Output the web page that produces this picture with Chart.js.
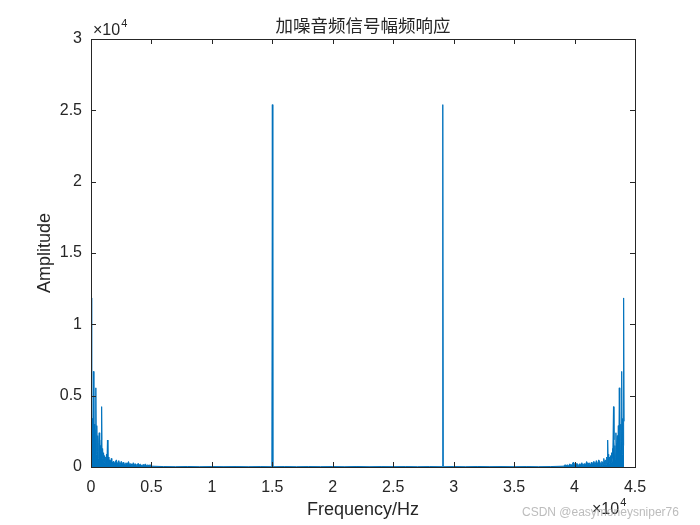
<!DOCTYPE html>
<html>
<head>
<meta charset="utf-8">
<script src="https://cdn.jsdelivr.net/npm/chart.js@4/dist/chart.umd.min.js"></script>
<style>
  html, body { margin: 0; padding: 0; background: #fff; }
  #wrap { width: 700px; height: 525px; }
</style>
</head>
<body>
<div id="wrap"><canvas id="spectrum"></canvas></div>
<script>
// 低频段 (0-2000 Hz)
const lowFreq = [0,40,80,120,160,200,240,280,320,360,400,440,480,520,560,600,640,680,720,760,800,840,880,920,960,1000,1040,1080,1120,1160,1200,1240,1280,1320,1360,1400,1440,1480,1520,1560,1600,1640,1680,1720,1760,1800,1840,1880,1920,1960,2000];
const lowAmp = [3200,11850,1500,3400,900,6700,1800,3000,1200,2600,5550,900,2900,1100,2200,600,1700,2400,500,1500,700,1900,4230,600,1300,400,1000,300,800,350,700,250,900,400,1890,300,700,200,500,150,450,200,600,150,350,100,400,150,300,100,350];

const bandFreq = [2100,2200,2300,2400,2500,2600,2700,2800,2900,3000,3100,3200,3300,3400,3500,3600,3700,3800,3900,4000,4100,4200,4300,4400,4500,4600,4700,4800,4900,5000];
const bandAmp = [500,200,450,150,400,250,350,120,300,200,380,150,250,100,300,180,220,90,260,150,200,80,180,120,220,70,150,100,160,60];

// 中间段, 含两个尖峰
const midFreq = [6000,7000,8000,9000,10000,11000,12000,13000,14000,14960,15000,15040,16000,17000,18000,19000,20000,21000,22000,23000,24000,25000,26000,27000,28000,29060,29100,29140,30000,31000,32000,33000,34000,35000,36000,37000,38000];
const midAmp = [30,20,35,20,30,25,30,20,30,20,25400,20,30,20,30,25,30,20,35,20,30,25,30,20,30,20,25400,20,30,20,35,25,30,20,30,20,30];

const highBandFreq = [39100,39200,39300,39400,39500,39600,39700,39800,39900,40000,40100,40200,40300,40400,40500,40600,40700,40800,40900,41000,41100,41200,41300,41400,41500,41600,41700,41800,41900,42000];
const highBandAmp = [60,160,100,150,70,220,120,180,350,200,150,260,90,220,180,300,100,250,150,380,200,300,120,350,250,400,150,450,200,500];

const highFreq = [42100,42140,42180,42220,42260,42300,42340,42380,42420,42460,42500,42540,42580,42620,42660,42700,42740,42780,42820,42860,42900,42940,42980,43020,43060,43100,43140,43180,43220,43260,43300,43340,43380,43420,43460,43500,43540,43580,43620,43660,43700,43740,43780,43820,43860,43900,43940,43980,44020,44060,44100];
const highAmp = [350,100,300,150,400,100,350,150,600,200,450,150,500,200,700,300,1890,400,900,250,700,350,800,300,1000,400,1300,600,4230,1900,700,1500,500,2400,1700,600,2200,1100,2900,900,5550,2600,1200,3000,1800,6700,900,3400,1500,11850,3200];

const xTicks = [0,5000,10000,15000,20000,25000,30000,35000,40000,45000];
const yTicks = [0,5000,10000,15000,20000,25000,30000];

const freqs = [...lowFreq, ...bandFreq, ...midFreq, ...highBandFreq, ...highFreq];
const amps = [...lowAmp, ...bandAmp, ...midAmp, ...highBandAmp, ...highAmp];
const points = freqs.map((f, i) => ({ x: f, y: amps[i] }));

const FONT = "'Liberation Sans', Arial, sans-serif";
const TXT = '#262626';

const framePlugin = {
    id: 'frame',
    afterDraw(chart) {
        const { ctx, chartArea: a, scales: { x, y } } = chart;
        ctx.save();
        ctx.strokeStyle = TXT;
        ctx.lineWidth = 1;
        ctx.beginPath();
        xTicks.forEach(v => {
            const px = Math.round(x.getPixelForValue(v)) + 0.5;
            ctx.moveTo(px, a.bottom); ctx.lineTo(px, a.bottom - 5);
            ctx.moveTo(px, a.top); ctx.lineTo(px, a.top + 5);
        });
        yTicks.forEach(v => {
            const py = Math.round(y.getPixelForValue(v)) + 0.5;
            ctx.moveTo(a.left, py); ctx.lineTo(a.left + 5, py);
            ctx.moveTo(a.right, py); ctx.lineTo(a.right - 5, py);
        });
        ctx.stroke();
        ctx.strokeRect(Math.round(a.left) + 0.5, Math.round(a.top) + 0.5,
            Math.round(a.right - a.left), Math.round(a.bottom - a.top));

        ctx.fillStyle = TXT;
        // 标题
        ctx.textAlign = 'center';
        ctx.textBaseline = 'middle';
        ctx.font = "17.5px 'Noto Sans CJK SC', sans-serif";
        ctx.fillText('加噪音频信号幅频响应', (a.left + a.right) / 2, 25);

        // 轴标签
        ctx.font = '18px ' + FONT;
        ctx.fillText('Frequency/Hz', (a.left + a.right) / 2, 510);
        ctx.save();
        ctx.translate(45, (a.top + a.bottom) / 2);
        ctx.rotate(-Math.PI / 2);
        ctx.fillText('Amplitude', 0, 0);
        ctx.restore();

        // ×10^4
        ctx.textBaseline = 'alphabetic';
        ctx.textAlign = 'left';
        ctx.font = '16px ' + FONT;
        ctx.fillText('\u00d710', 93, 35);
        let w = ctx.measureText('\u00d710').width;
        ctx.font = '11px ' + FONT;
        ctx.fillText('4', 93 + w + 1, 27);

        ctx.font = '16px ' + FONT;
        ctx.fillText('\u00d710', 592, 514);
        w = ctx.measureText('\u00d710').width;
        ctx.font = '11px ' + FONT;
        ctx.fillText('4', 592 + w + 1, 506);

        // 水印
        ctx.fillStyle = 'rgba(160,160,160,0.7)';
        ctx.font = '12px ' + FONT;
        ctx.textBaseline = 'middle';
        ctx.fillText('CSDN @easymoneysniper76', 522, 513);
        ctx.restore();
    }
};

new Chart(document.getElementById('spectrum'), {
    type: 'line',
    data: {
        datasets: [{
            data: points,
            borderColor: '#0072BD',
            backgroundColor: '#0072BD',
            borderWidth: 1,
            pointRadius: 0,
            tension: 0,
            fill: 'origin'
        }]
    },
    options: {
        responsive: true,
        maintainAspectRatio: false,
        animation: false,
        layout: { padding: { left: 0, right: 65, top: 39, bottom: 0 } },
        plugins: {
            legend: { display: false },
            tooltip: { enabled: false }
        },
        scales: {
            x: {
                type: 'linear',
                min: 0, max: 45000,
                grid: { display: false },
                border: { display: false },
                afterFit: s => { s.height = 58; },
                afterBuildTicks: s => { s.ticks = xTicks.map(v => ({ value: v })); },
                ticks: {
                    color: TXT,
                    padding: 3,
                    maxRotation: 0,
                    font: { family: FONT, size: 16 },
                    callback: v => String(v / 10000)
                }
            },
            y: {
                min: 0, max: 30000,
                grid: { display: false },
                border: { display: false },
                afterFit: s => { s.width = 91; },
                afterBuildTicks: s => { s.ticks = yTicks.map(v => ({ value: v })); },
                ticks: {
                    color: TXT,
                    padding: 1,
                    font: { family: FONT, size: 16 },
                    callback: v => String(v / 10000)
                }
            }
        }
    },
    plugins: [framePlugin]
});
</script>
</body>
</html>
